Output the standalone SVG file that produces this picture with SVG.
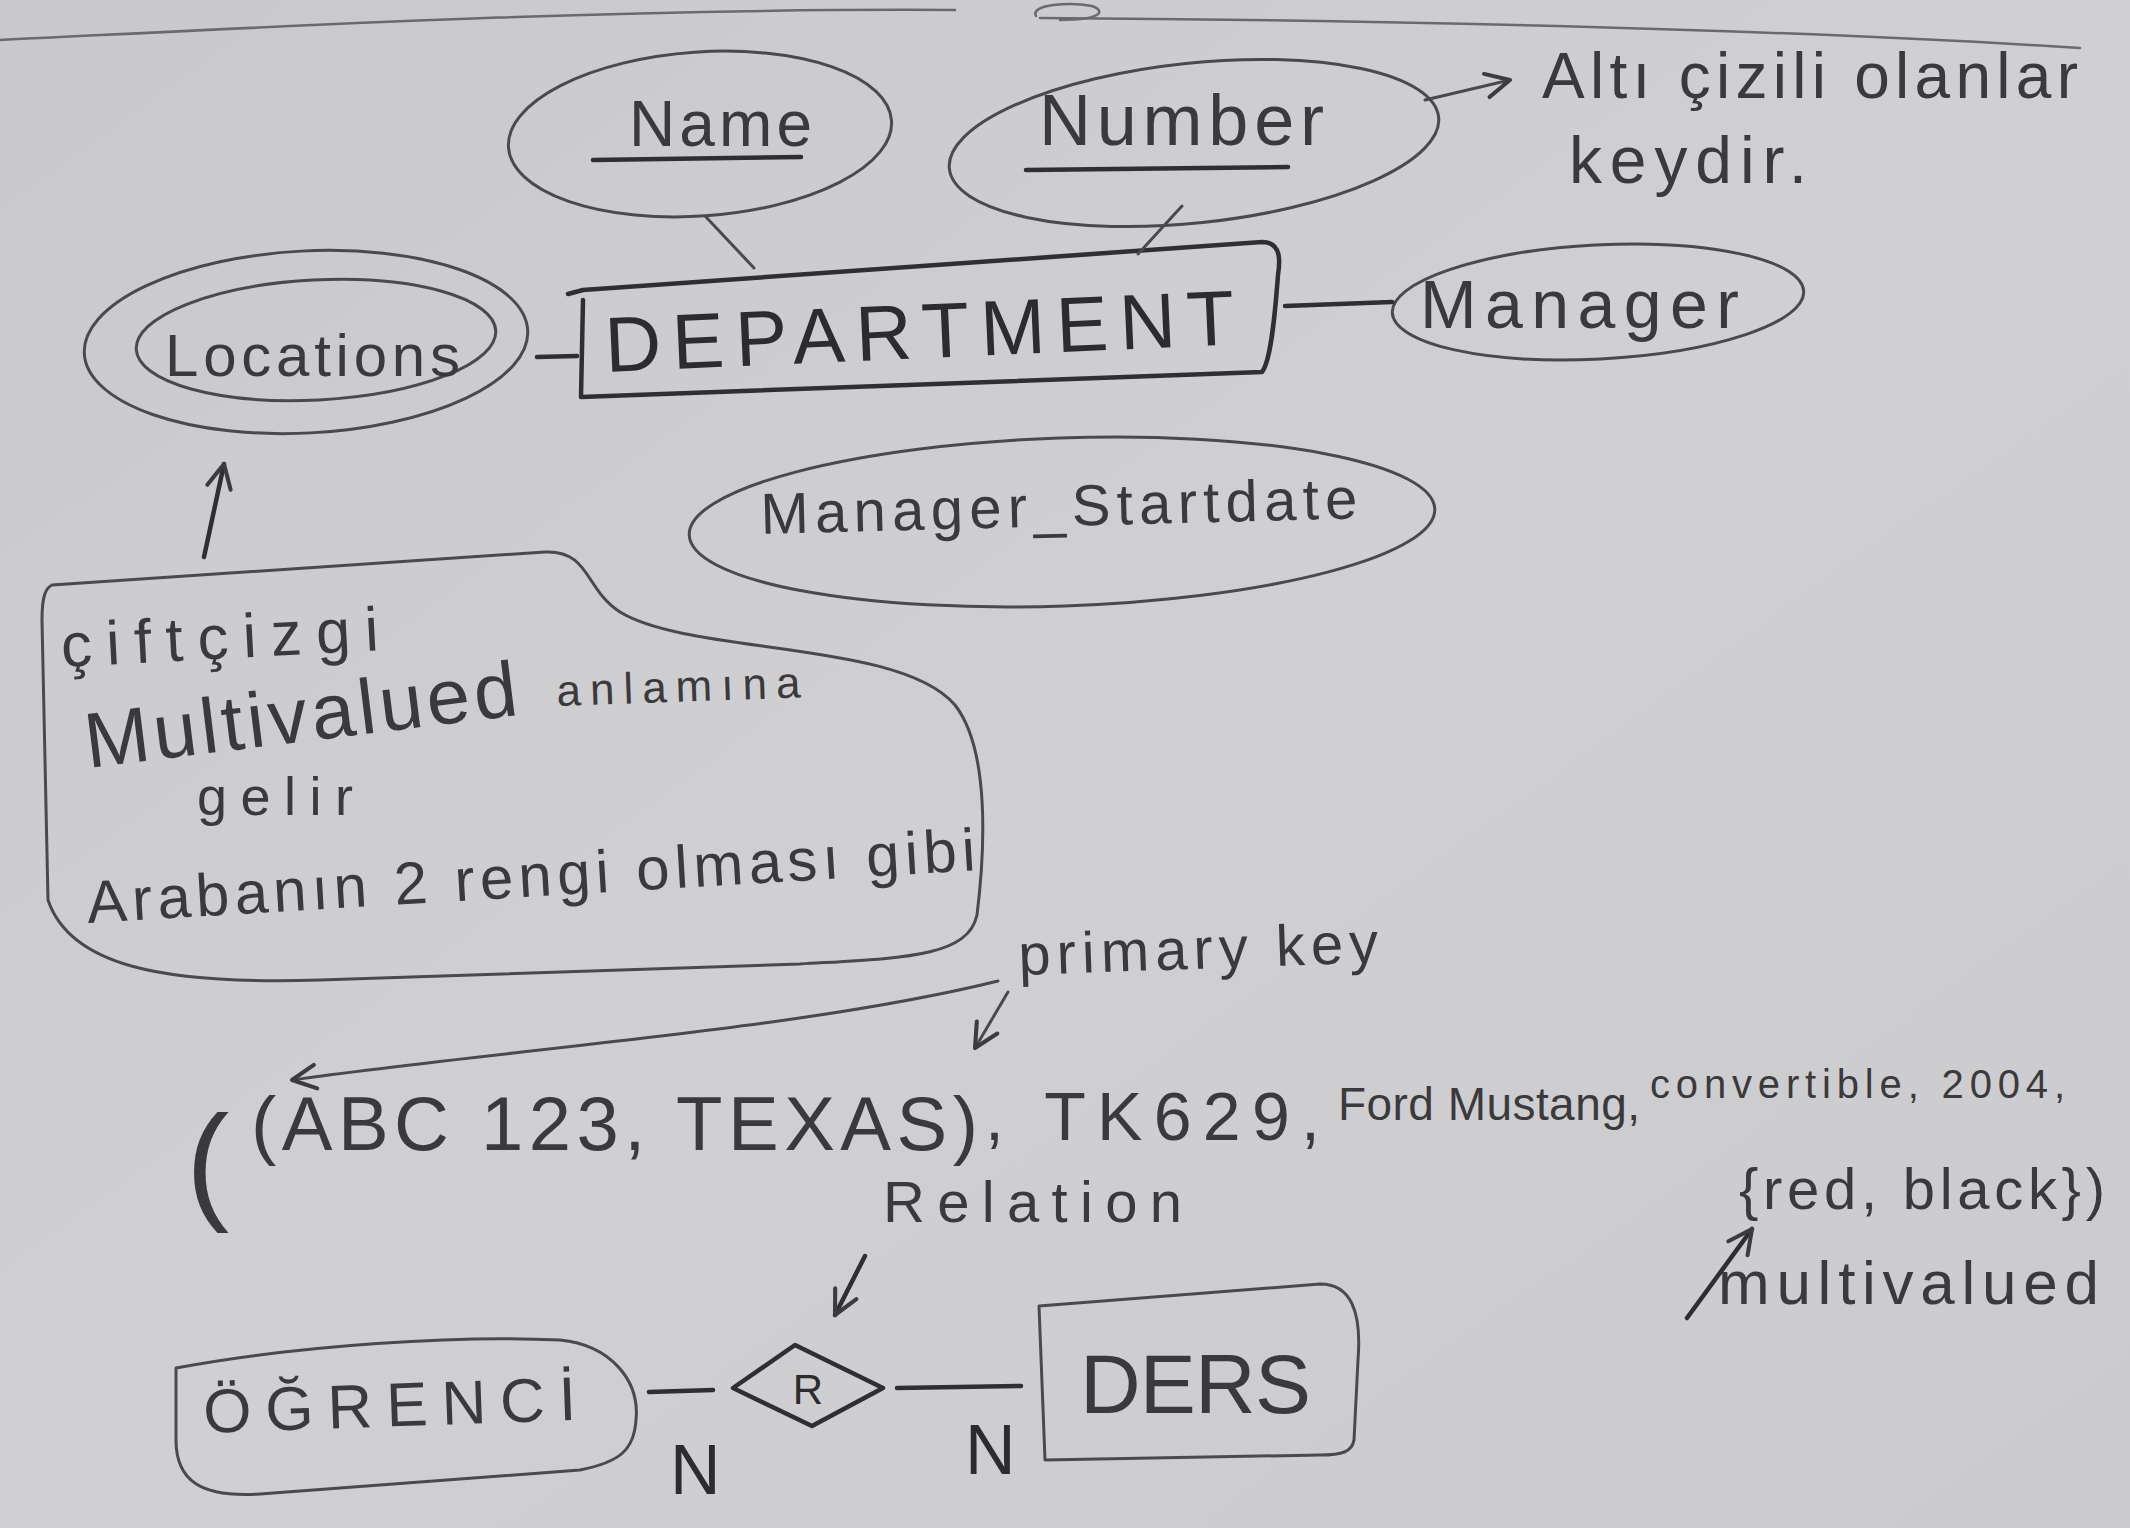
<svg xmlns="http://www.w3.org/2000/svg" width="2130" height="1528" viewBox="0 0 2130 1528">
<defs>
<linearGradient id="paper" x1="0" y1="0" x2="1" y2="1">
<stop offset="0" stop-color="#c9c9cc"/>
<stop offset="0.5" stop-color="#d0d0d3"/>
<stop offset="1" stop-color="#cbcbce"/>
</linearGradient>
<marker id="arr" viewBox="0 0 20 20" refX="17" refY="10" markerWidth="34" markerHeight="34" markerUnits="userSpaceOnUse" orient="auto">
<path d="M3,3 L17,10 L3,17" fill="none" stroke="#3c3c3e" stroke-width="2.4" stroke-linecap="round" stroke-linejoin="round"/>
</marker>
<style>
.pen{fill:none;stroke:#4a4a4d;stroke-width:3;stroke-linecap:round;stroke-linejoin:round}
.dark{fill:none;stroke:#2f2f31;stroke-width:4.5;stroke-linecap:round;stroke-linejoin:round}
.light{fill:none;stroke:#6a6a6d;stroke-width:2.5;stroke-linecap:round}
.t{font-family:"Liberation Sans","DejaVu Sans",sans-serif;fill:#3a3a3c}
.td{font-family:"Liberation Sans","DejaVu Sans",sans-serif;fill:#2c2c2e}
</style>
</defs>
<rect width="2130" height="1528" fill="url(#paper)"/>

<!-- page edge lines -->
<g id="top-lines">
<path class="light" d="M0,40 C250,28 600,8 955,10"/>
<path class="light" d="M1040,18 C1400,20 1800,30 2080,48"/>
<path class="light" d="M1036,16 C1030,4 1070,2 1092,6 C1108,12 1098,20 1060,20"/>
</g>

<g id="name-attr">
<ellipse class="pen" cx="700" cy="134" rx="192" ry="82" transform="rotate(-4 700 134)"/>
<text class="t" x="629" y="146" font-size="64" textLength="183">Name</text>
<path class="dark" d="M593,160 L801,157"/>
</g>

<g id="number-attr">
<ellipse class="pen" cx="1194" cy="143" rx="246" ry="80" transform="rotate(-6 1194 143)"/>
<text class="t" x="1039" y="145" font-size="72" textLength="285">Number</text>
<path class="dark" d="M1026,170 L1288,167"/>
</g>

<g id="note-keys">
<text class="t" x="1542" y="98" font-size="64" textLength="536">Altı çizili olanlar</text>
<text class="t" x="1569" y="183" font-size="66" textLength="238">keydir.</text>
</g>

<g id="department">
<path class="dark" d="M568,294 L583,290 L1262,242 C1282,242 1280,262 1278,275 C1276,300 1272,360 1262,372 L581,397 L583,300"/>
<text class="td" x="606" y="372" font-size="78" textLength="630" transform="rotate(-2.5 606 372)">DEPARTMENT</text>
</g>

<g id="locations">
<ellipse class="pen" cx="306" cy="342" rx="222" ry="91" transform="rotate(-3 306 342)"/>
<ellipse class="pen" cx="316" cy="340" rx="180" ry="60" transform="rotate(-3 316 340)"/>
<text class="t" x="165" y="376" font-size="60" textLength="295">Locations</text>
</g>

<g id="manager">
<ellipse class="pen" cx="1598" cy="302" rx="206" ry="57" transform="rotate(-3 1598 302)"/>
<text class="t" x="1420" y="328" font-size="68" textLength="319">Manager</text>
</g>

<g id="manager-startdate">
<ellipse class="pen" cx="1062" cy="522" rx="373" ry="84" transform="rotate(-2 1062 522)"/>
<text class="t" x="761" y="534" font-size="58" textLength="597" transform="rotate(-1.5 761 534)">Manager_Startdate</text>
</g>

<g id="note-multivalued">
<path class="pen" d="M52,585 L545,552 C590,550 585,590 620,612 C690,655 900,640 955,705 C990,750 985,850 977,915 C968,958 900,958 800,964 L320,980 C160,985 70,965 48,900 L42,620 C42,595 46,588 52,585 Z"/>
<text class="t" x="62" y="667" font-size="62" textLength="318" transform="rotate(-3 62 667)">çiftçizgi</text>
<text class="t" x="88" y="768" font-size="78" textLength="435" transform="rotate(-7 88 768)">Multivalued</text>
<text class="t" x="557" y="706" font-size="44" textLength="244" transform="rotate(-2 557 706)">anlamına</text>
<text class="t" x="197" y="815" font-size="54" textLength="156">gelir</text>
<text class="t" x="88" y="923" font-size="60" textLength="890" transform="rotate(-3.4 88 923)">Arabanın 2 rengi olması gibi</text>
</g>

<g id="example-tuple">
<text class="t" x="1019" y="975" font-size="58" textLength="360" transform="rotate(-2 1019 975)">primary key</text>
<text class="t" x="186" y="1206" font-size="130" textLength="50">(</text>
<text class="t" x="251" y="1150" font-size="76" textLength="727">(ABC 123, TEXAS)</text>
<text class="t" x="985" y="1140" font-size="68" textLength="335">, TK629,</text>
<text class="t" x="1338" y="1120" font-size="46" textLength="302">Ford Mustang,</text>
<text class="t" x="1650" y="1098" font-size="40" textLength="415">convertible, 2004,</text>
<text class="t" x="1739" y="1209" font-size="58" textLength="366">{red, black})</text>
<text class="t" x="1718" y="1304" font-size="62" textLength="381">multivalued</text>
<text class="t" x="883" y="1222" font-size="58" textLength="299">Relation</text>
</g>

<g id="ogrenci">
<path class="pen" d="M176,1368 C300,1345 460,1335 560,1340 C610,1345 640,1380 636,1420 C634,1450 620,1462 580,1470 L260,1494 C200,1498 176,1480 176,1440 Z"/>
<text class="t" x="204" y="1433" font-size="62" textLength="373" transform="rotate(-2 204 1433)">ÖĞRENCİ</text>
</g>

<g id="relation-r">
<path class="dark" d="M733,1388 L795,1345 L883,1388 L812,1426 Z"/>
<text class="td" x="808" y="1404" font-size="42" text-anchor="middle">R</text>
</g>

<g id="ders">
<path class="pen" d="M1039,1306 L1320,1284 C1350,1284 1362,1310 1358,1360 L1354,1440 C1352,1452 1342,1455 1320,1455 L1045,1460 L1039,1306"/>
<text class="t" x="1080" y="1413" font-size="84" textLength="231">DERS</text>
</g>

<g id="cardinalities">
<text class="td" x="670" y="1494" font-size="70">N</text>
<text class="td" x="965" y="1474" font-size="70">N</text>
</g>

<g id="connectors">
<path class="pen" d="M706,217 L754,268"/>
<path class="pen" d="M1182,206 L1138,254"/>
<path class="dark" d="M537,357 L577,356"/>
<path class="dark" d="M1285,306 L1392,302"/>
<path class="pen" d="M1425,100 L1510,80" marker-end="url(#arr)"/>
<path class="dark" d="M204,557 L224,464" marker-end="url(#arr)"/>
<path class="pen" d="M1008,992 L975,1048" marker-end="url(#arr)"/>
<path class="pen" d="M998,981 C800,1030 500,1050 292,1080" marker-end="url(#arr)"/>
<path class="dark" d="M1687,1318 L1752,1229" marker-end="url(#arr)"/>
<path class="dark" d="M865,1256 L835,1315" marker-end="url(#arr)"/>
<path class="dark" d="M649,1392 L713,1390"/>
<path class="dark" d="M897,1388 L1021,1386"/>
</g>
</svg>
